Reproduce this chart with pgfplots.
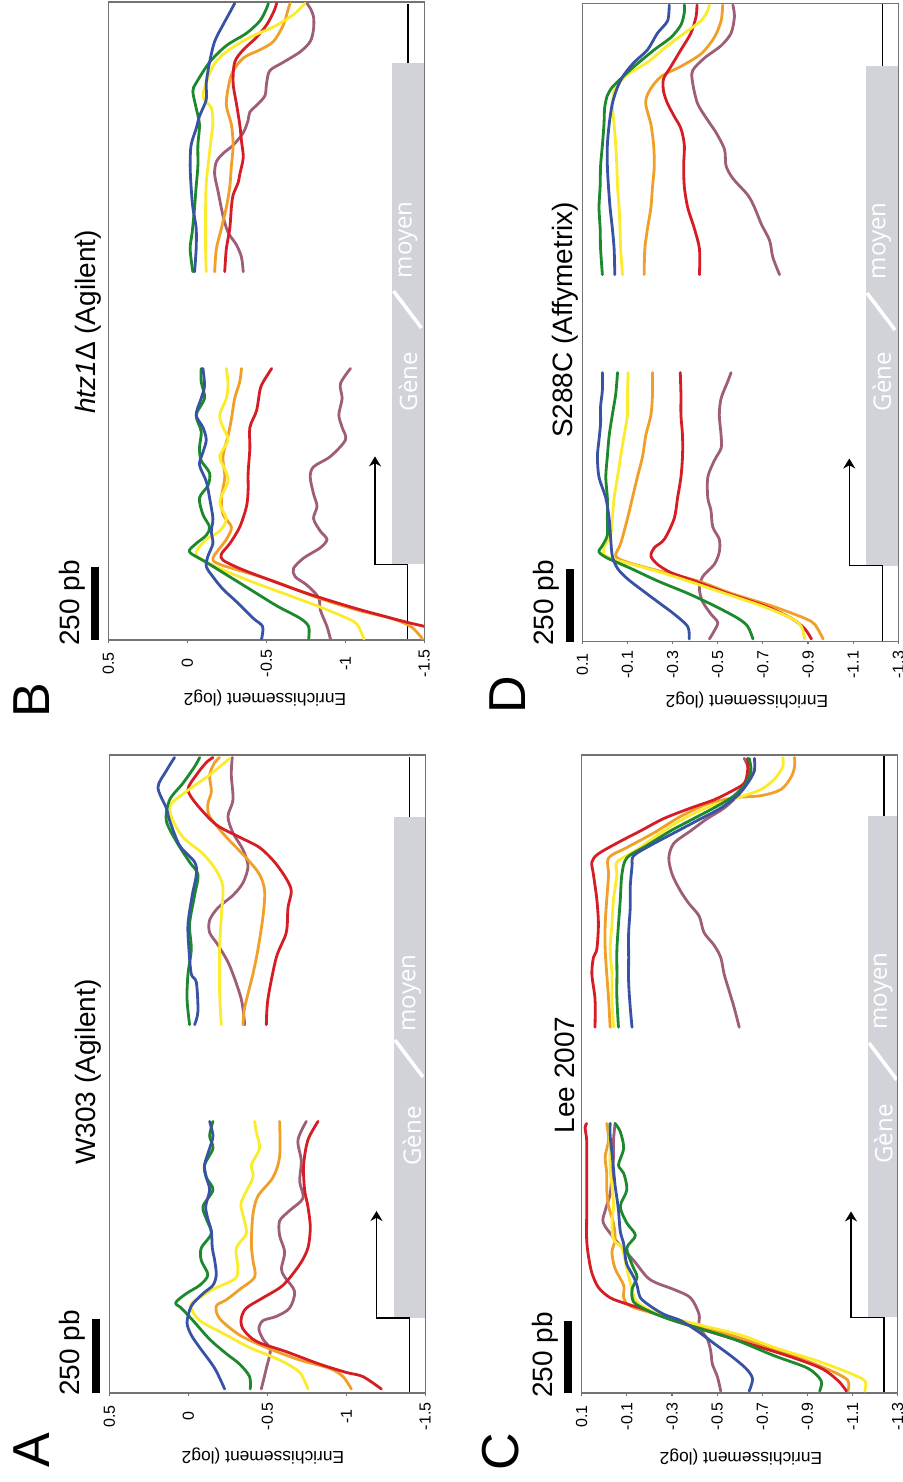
\documentclass[border=0pt]{standalone}
\usepackage{pgfplots}
\pgfplotsset{compat=1.18}
\usepackage{fontspec}
\setmainfont{Liberation Sans}
\newfontfamily\genefont{Open Sans}
\usetikzlibrary{arrows.meta}

\definecolor{cblue}{RGB}{57,83,164}
\definecolor{cgreen}{RGB}{27,137,44}
\definecolor{cyellow}{RGB}{250,235,45}
\definecolor{corange}{RGB}{240,160,40}
\definecolor{cred}{RGB}{214,28,36}
\definecolor{cpurple}{RGB}{158,94,120}
\definecolor{genegray}{RGB}{210,211,217}
\definecolor{framegray}{RGB}{115,115,115}

\pgfplotsset{
  panel/.style={
    scale only axis, width=158pt, height=319pt, anchor=center,
    x dir=reverse, clip mode=individual, no markers,
    axis line style={draw=framegray, line width=0.7pt},
    ytick=\empty, xtick pos=left, xtick align=outside,
    major tick length=1.5pt,
    tick style={draw=framegray, line width=0.6pt},
    xticklabel style={rotate=90, anchor=east, font=\fontsize{8}{9}\selectfont,
      text width=16pt, align=center, inner xsep=2pt, inner ysep=0pt},
    every axis plot/.append style={line width=1.4pt, line join=round, line cap=round, smooth, tension=0.5},
  },
  panelAB/.style={panel, xmin=-1.5, xmax=0.5, xtick={0.5,0,-0.5,-1,-1.5},
    xticklabels={0.5,0,-0.5,-1,-1.5}},
  panelCD/.style={panel, xmin=-1.3, xmax=0.1,
    xtick={0.1,-0.1,-0.3,-0.5,-0.7,-0.9,-1.1,-1.3},
    xticklabels={0.1,-0.1,-0.3,-0.5,-0.7,-0.9,-1.1,-1.3}},
}

\begin{document}
\begin{tikzpicture}
\useasboundingbox (0,0) rectangle (451.5pt,-741pt);

% ---------- gene diagrams and scale bars (background) ----------
\begin{scope}[x=0.5pt,y=-0.5pt]
  \tikzset{gline/.style={black, line width=0.75pt},
           garrow/.style={black, line width=0.75pt, -{Stealth[length=5pt,width=6pt]}},
           gtext/.style={rotate=90, text=white, font=\genefont\fontsize{12}{12}\selectfont}}
  % A
  \fill[genegray] (394.3,816.7) rectangle (425.3,1318);
  \draw[garrow] (409.5,1393) -- (409.5,1318) -- (376.5,1318) -- (376.5,1211);
  \draw[gline] (409.5,816.7) -- (409.5,757);
  \draw[white, line width=1.8pt] (395,1040) -- (423,1077);
  \node[gtext] at (411.7,1136) {Gène};
  \node[gtext] at (411.7,993) {moyen};
  \draw[black, line width=4pt] (96,1319) -- (96,1393);
  % B
  \fill[genegray] (391.7,63.3) rectangle (424.3,564.3);
  \draw[garrow] (407.5,640) -- (407.5,564.3) -- (375,564.3) -- (375,456.4);
  \draw[gline] (408,63.3) -- (408,4);
  \draw[white, line width=1.8pt] (393.5,291) -- (421.5,328);
  \node[gtext] at (408,381.7) {Gène};
  \node[gtext] at (408,240) {moyen};
  \draw[black, line width=4pt] (95,567) -- (95,640);
  % C
  \fill[genegray] (868.3,815.6) rectangle (897.7,1317.3);
  \draw[garrow] (884,1392.7) -- (884,1317.3) -- (851,1317.3) -- (851,1211.4);
  \draw[gline] (884,815.6) -- (884,756);
  \draw[white, line width=1.8pt] (869,1043) -- (897,1080);
  \node[gtext] at (883.3,1134) {Gène};
  \node[gtext] at (883.3,991) {moyen};
  \draw[black, line width=4pt] (567.8,1320.7) -- (567.8,1393);
  % D
  \fill[genegray] (866,65.6) rectangle (898.3,565.7);
  \draw[garrow] (882.3,641.3) -- (882.3,565.7) -- (849.3,565.7) -- (849.3,458.5);
  \draw[gline] (882.3,65.6) -- (882.3,4);
  \draw[white, line width=1.8pt] (867,293) -- (895,330);
  \node[gtext] at (881.7,381.7) {Gène};
  \node[gtext] at (881.7,240.7) {moyen};
  \draw[black, line width=4pt] (569.7,569) -- (569.7,641.5);
\end{scope}

% ================= Panel A : W303 (Agilent) =================
\begin{axis}[panelAB, at={(133.65pt,-537pt)}, ymin=-1549.6, ymax=-12]
% segment 1 (around the TSS)
\addplot[cpurple] coordinates {(-0.462,-1540) (-0.494,-1490) (-0.519,-1445) (-0.473,-1420) (-0.447,-1395) (-0.473,-1375) (-0.557,-1365) (-0.641,-1345) (-0.673,-1305) (-0.610,-1270) (-0.589,-1250) (-0.610,-1210) (-0.578,-1170) (-0.578,-1135) (-0.641,-1110) (-0.726,-1080) (-0.705,-1040) (-0.715,-990) (-0.694,-940) (-0.747,-895)};
\addplot[corange] coordinates {(-1.032,-1540) (-0.979,-1510) (-0.894,-1490) (-0.705,-1470) (-0.494,-1440) (-0.325,-1410) (-0.198,-1370) (-0.177,-1340) (-0.241,-1325) (-0.325,-1300) (-0.420,-1270) (-0.409,-1230) (-0.399,-1190) (-0.409,-1120) (-0.441,-1075) (-0.536,-1030) (-0.578,-980) (-0.578,-895)};
\addplot[cred] coordinates {(-1.222,-1540) (-1.105,-1510) (-1.000,-1500) (-0.831,-1480) (-0.620,-1450) (-0.430,-1425) (-0.346,-1395) (-0.335,-1370) (-0.367,-1345) (-0.473,-1320) (-0.599,-1290) (-0.705,-1240) (-0.757,-1200) (-0.772,-1150) (-0.757,-1100) (-0.736,-1060) (-0.730,-1000) (-0.757,-940) (-0.821,-895)};
\addplot[cyellow] coordinates {(-0.757,-1540) (-0.705,-1500) (-0.578,-1470) (-0.388,-1440) (-0.241,-1410) (-0.072,-1375) (-0.019,-1345) (-0.030,-1330) (-0.156,-1300) (-0.293,-1275) (-0.314,-1250) (-0.304,-1200) (-0.367,-1165) (-0.346,-1120) (-0.335,-1090) (-0.409,-1030) (-0.399,-1000) (-0.451,-960) (-0.430,-920) (-0.420,-895)};
\addplot[cgreen] coordinates {(-0.392,-1540) (-0.388,-1510) (-0.325,-1480) (-0.241,-1455) (-0.135,-1420) (-0.030,-1375) (0.044,-1345) (0.080,-1332) (0.013,-1310) (-0.072,-1290) (-0.124,-1265) (-0.082,-1230) (-0.082,-1200) (-0.146,-1165) (-0.114,-1130) (-0.093,-1100) (-0.156,-1060) (-0.114,-1030) (-0.103,-1000) (-0.156,-960) (-0.135,-930) (-0.156,-895)};
\addplot[cblue] coordinates {(-0.230,-1540) (-0.167,-1490) (-0.072,-1440) (-0.019,-1410) (0.008,-1380) (-0.019,-1340) (-0.093,-1310) (-0.156,-1290) (-0.177,-1265) (-0.167,-1230) (-0.152,-1200) (-0.146,-1160) (-0.124,-1130) (-0.110,-1100) (-0.135,-1060) (-0.114,-1030) (-0.103,-1000) (-0.135,-960) (-0.156,-930) (-0.135,-895)};
% segment 2 (gene end)
\addplot[cpurple] coordinates {(-0.357,-662) (-0.335,-600) (-0.262,-520) (-0.188,-470) (-0.135,-440) (-0.135,-410) (-0.188,-380) (-0.283,-350) (-0.346,-320) (-0.378,-280) (-0.346,-240) (-0.283,-200) (-0.251,-160) (-0.283,-120) (-0.272,-60) (-0.278,-18)};
\addplot[corange] coordinates {(-0.346,-662) (-0.357,-620) (-0.409,-540) (-0.441,-480) (-0.473,-400) (-0.483,-340) (-0.451,-300) (-0.367,-260) (-0.241,-210) (-0.135,-160) (-0.124,-130) (-0.146,-100) (-0.135,-60) (-0.167,-30) (-0.198,-18)};
\addplot[cred] coordinates {(-0.494,-662) (-0.504,-600) (-0.557,-500) (-0.620,-440) (-0.631,-380) (-0.652,-340) (-0.620,-310) (-0.546,-270) (-0.451,-235) (-0.325,-210) (-0.177,-180) (-0.051,-130) (0.002,-95) (-0.051,-60) (-0.114,-30) (-0.156,-18)};
\addplot[cyellow] coordinates {(-0.209,-662) (-0.198,-580) (-0.198,-480) (-0.209,-400) (-0.219,-330) (-0.177,-290) (-0.093,-250) (0.034,-210) (0.108,-160) (0.108,-130) (0.013,-100) (-0.135,-60) (-0.262,-20)};
\addplot[cgreen] coordinates {(-0.008,-662) (0.008,-600) (0.002,-540) (-0.019,-480) (-0.008,-420) (-0.040,-350) (-0.061,-300) (-0.008,-270) (0.076,-220) (0.139,-170) (0.118,-120) (0.034,-80) (-0.040,-40) (-0.072,-18)};
\addplot[cblue] coordinates {(-0.040,-662) (-0.061,-630) (-0.051,-560) (-0.019,-540) (-0.004,-480) (0.002,-420) (-0.025,-350) (-0.051,-300) (-0.040,-270) (0.055,-230) (0.118,-170) (0.139,-140) (0.192,-90) (0.139,-50) (0.087,-18)};
\end{axis}

% ================= Panel B : htz1 (Agilent) =================
\begin{axis}[panelAB, at={(133.15pt,-160.5pt)}, ymin=-1542.4, ymax=-4.8]
\addplot[cpurple] coordinates {(-0.906,-1540) (-0.884,-1510) (-0.842,-1470) (-0.831,-1440) (-0.757,-1410) (-0.683,-1390) (-0.672,-1370) (-0.736,-1345) (-0.842,-1320) (-0.884,-1300) (-0.842,-1280) (-0.799,-1250) (-0.821,-1220) (-0.799,-1190) (-0.778,-1150) (-0.799,-1125) (-0.906,-1100) (-1.001,-1060) (-0.980,-1030) (-0.959,-1000) (-0.980,-960) (-0.969,-925) (-1.033,-888)};
\addplot[corange] coordinates {(-1.489,-1540) (-1.415,-1510) (-1.288,-1490) (-1.075,-1470) (-0.821,-1440) (-0.545,-1400) (-0.332,-1375) (-0.205,-1360) (-0.162,-1345) (-0.247,-1300) (-0.279,-1270) (-0.226,-1240) (-0.216,-1200) (-0.237,-1150) (-0.226,-1100) (-0.258,-1050) (-0.279,-1010) (-0.300,-960) (-0.332,-920) (-0.343,-888)};
\addplot[cred] coordinates {(-1.564,-1515) (-1.394,-1500) (-1.245,-1485) (-1.054,-1465) (-0.757,-1430) (-0.502,-1395) (-0.332,-1370) (-0.226,-1350) (-0.216,-1335) (-0.269,-1310) (-0.332,-1270) (-0.375,-1220) (-0.385,-1180) (-0.385,-1140) (-0.396,-1080) (-0.396,-1030) (-0.438,-990) (-0.460,-940) (-0.481,-920) (-0.534,-888)};
\addplot[cyellow] coordinates {(-1.118,-1540) (-1.075,-1505) (-1.012,-1490) (-0.821,-1460) (-0.608,-1430) (-0.396,-1400) (-0.205,-1370) (-0.077,-1345) (-0.056,-1330) (-0.120,-1300) (-0.205,-1280) (-0.247,-1250) (-0.205,-1210) (-0.258,-1160) (-0.237,-1130) (-0.205,-1100) (-0.258,-1060) (-0.226,-1030) (-0.205,-1000) (-0.247,-960) (-0.258,-925) (-0.247,-888)};
\addplot[cgreen] coordinates {(-0.768,-1540) (-0.768,-1510) (-0.714,-1490) (-0.566,-1460) (-0.396,-1420) (-0.247,-1385) (-0.120,-1355) (-0.014,-1330) (-0.056,-1310) (-0.120,-1290) (-0.141,-1270) (-0.099,-1240) (-0.077,-1200) (-0.131,-1170) (-0.141,-1140) (-0.088,-1110) (-0.077,-1080) (-0.088,-1040) (-0.056,-1000) (-0.109,-960) (-0.088,-920) (-0.088,-888)};
\addplot[cblue] coordinates {(-0.470,-1540) (-0.477,-1510) (-0.417,-1490) (-0.311,-1450) (-0.226,-1420) (-0.162,-1390) (-0.120,-1365) (-0.131,-1340) (-0.162,-1310) (-0.152,-1280) (-0.162,-1250) (-0.141,-1200) (-0.120,-1160) (-0.077,-1120) (-0.099,-1090) (-0.120,-1060) (-0.099,-1030) (-0.056,-1000) (-0.088,-960) (-0.109,-930) (-0.099,-888)};
\addplot[cpurple] coordinates {(-0.354,-655) (-0.343,-620) (-0.311,-590) (-0.258,-560) (-0.226,-520) (-0.194,-460) (-0.173,-420) (-0.184,-390) (-0.226,-370) (-0.290,-350) (-0.354,-320) (-0.385,-290) (-0.396,-270) (-0.449,-250) (-0.492,-230) (-0.502,-200) (-0.523,-170) (-0.608,-150) (-0.714,-125) (-0.778,-100) (-0.799,-70) (-0.799,-40) (-0.778,-20) (-0.757,-8)};
\addplot[corange] coordinates {(-0.173,-655) (-0.184,-600) (-0.216,-550) (-0.247,-500) (-0.269,-450) (-0.279,-400) (-0.290,-350) (-0.279,-300) (-0.247,-250) (-0.279,-180) (-0.354,-140) (-0.460,-120) (-0.545,-100) (-0.608,-60) (-0.640,-20) (-0.651,-8)};
\addplot[cred] coordinates {(-0.237,-655) (-0.247,-600) (-0.269,-550) (-0.279,-500) (-0.290,-470) (-0.322,-440) (-0.332,-420) (-0.354,-380) (-0.343,-340) (-0.332,-300) (-0.311,-250) (-0.290,-200) (-0.300,-150) (-0.354,-120) (-0.438,-90) (-0.502,-60) (-0.545,-30) (-0.566,-8)};
\addplot[cyellow] coordinates {(-0.120,-655) (-0.116,-600) (-0.116,-500) (-0.120,-440) (-0.131,-400) (-0.152,-330) (-0.162,-300) (-0.152,-260) (-0.099,-230) (-0.162,-160) (-0.247,-125) (-0.396,-90) (-0.545,-65) (-0.672,-35) (-0.746,-8)};
\addplot[cgreen] coordinates {(-0.035,-655) (-0.018,-600) (-0.031,-560) (-0.046,-500) (-0.056,-450) (-0.067,-400) (-0.067,-350) (-0.077,-300) (-0.056,-260) (-0.035,-220) (-0.056,-200) (-0.141,-150) (-0.247,-110) (-0.375,-80) (-0.460,-50) (-0.502,-20) (-0.513,-8)};
\addplot[cblue] coordinates {(-0.046,-655) (-0.056,-600) (-0.056,-550) (-0.035,-500) (-0.024,-450) (-0.018,-400) (-0.024,-350) (-0.056,-310) (-0.077,-280) (-0.120,-240) (-0.120,-200) (-0.141,-150) (-0.173,-100) (-0.226,-60) (-0.269,-30) (-0.300,-8)};
\end{axis}

% ================= Panel C : Lee 2007 =================
\begin{axis}[panelCD, at={(369.85pt,-537pt)}, ymin=-1549.6, ymax=-12]
\addplot[cpurple] coordinates {(-0.516,-1545) (-0.501,-1510) (-0.479,-1480) (-0.472,-1450) (-0.457,-1420) (-0.420,-1390) (-0.420,-1360) (-0.382,-1320) (-0.308,-1300) (-0.234,-1285) (-0.189,-1270) (-0.130,-1230) (-0.056,-1185) (0.004,-1140) (-0.004,-1110) (-0.026,-1070) (-0.034,-1020) (-0.041,-980) (-0.041,-940) (-0.048,-900)};
\addplot[corange] coordinates {(-1.080,-1545) (-1.080,-1520) (-1.021,-1500) (-0.887,-1470) (-0.724,-1440) (-0.561,-1410) (-0.397,-1385) (-0.234,-1360) (-0.115,-1340) (-0.086,-1320) (-0.086,-1290) (-0.048,-1250) (-0.034,-1210) (-0.048,-1180) (-0.041,-1140) (-0.019,-1100) (-0.011,-1060) (-0.011,-1020) (-0.004,-980) (-0.019,-940) (-0.011,-900)};
\addplot[cred] coordinates {(-1.073,-1545) (-1.036,-1520) (-0.961,-1490) (-0.813,-1460) (-0.635,-1430) (-0.457,-1400) (-0.308,-1375) (-0.189,-1350) (-0.100,-1335) (-0.026,-1320) (0.026,-1295) (0.055,-1260) (0.070,-1220) (0.078,-1180) (0.078,-1120) (0.078,-1050) (0.078,-990) (0.078,-940) (0.085,-910) (0.078,-900)};
\addplot[cyellow] coordinates {(-1.154,-1545) (-1.154,-1520) (-1.080,-1500) (-0.932,-1470) (-0.754,-1440) (-0.605,-1410) (-0.457,-1390) (-0.308,-1370) (-0.219,-1355) (-0.145,-1330) (-0.123,-1300) (-0.100,-1250) (-0.078,-1200) (-0.041,-1180) (-0.034,-1140) (-0.041,-1100) (-0.034,-1050) (-0.026,-1010) (-0.026,-960) (-0.023,-920) (-0.026,-900)};
\addplot[cgreen] coordinates {(-0.954,-1545) (-0.961,-1520) (-0.902,-1490) (-0.754,-1460) (-0.575,-1420) (-0.427,-1395) (-0.279,-1370) (-0.189,-1350) (-0.130,-1330) (-0.123,-1300) (-0.145,-1270) (-0.123,-1240) (-0.100,-1200) (-0.138,-1170) (-0.100,-1140) (-0.071,-1100) (-0.100,-1060) (-0.086,-1020) (-0.063,-1000) (-0.086,-960) (-0.071,-920) (-0.048,-900)};
\addplot[cblue] coordinates {(-0.642,-1545) (-0.657,-1515) (-0.627,-1490) (-0.561,-1460) (-0.486,-1430) (-0.412,-1400) (-0.338,-1375) (-0.264,-1360) (-0.204,-1340) (-0.160,-1320) (-0.145,-1290) (-0.130,-1270) (-0.100,-1240) (-0.093,-1220) (-0.086,-1190) (-0.071,-1160) (-0.063,-1110) (-0.056,-1080) (-0.048,-1050) (-0.041,-1010) (-0.034,-970) (-0.026,-930) (-0.026,-900)};
\addplot[cpurple] coordinates {(-0.598,-668) (-0.575,-620) (-0.553,-580) (-0.531,-540) (-0.516,-500) (-0.486,-470) (-0.442,-440) (-0.420,-400) (-0.375,-370) (-0.338,-340) (-0.301,-300) (-0.286,-260) (-0.308,-225) (-0.382,-195) (-0.457,-165) (-0.531,-140) (-0.590,-110) (-0.627,-80) (-0.642,-50) (-0.620,-20)};
\addplot[corange] coordinates {(-0.026,-668) (-0.019,-600) (-0.011,-540) (-0.004,-480) (-0.004,-420) (-0.011,-360) (-0.019,-300) (-0.019,-260) (-0.100,-235) (-0.219,-200) (-0.338,-160) (-0.457,-130) (-0.575,-115) (-0.694,-110) (-0.783,-95) (-0.828,-65) (-0.843,-40) (-0.843,-18)};
\addplot[cred] coordinates {(0.041,-668) (0.041,-600) (0.055,-540) (0.048,-500) (0.033,-480) (0.026,-420) (0.033,-360) (0.048,-300) (0.055,-270) (0.026,-250) (-0.071,-220) (-0.160,-195) (-0.264,-165) (-0.382,-140) (-0.486,-120) (-0.561,-100) (-0.620,-80) (-0.635,-50) (-0.635,-20)};
\addplot[cyellow] coordinates {(-0.041,-668) (-0.034,-600) (-0.034,-540) (-0.026,-480) (-0.034,-420) (-0.041,-360) (-0.056,-300) (-0.056,-270) (-0.145,-240) (-0.249,-200) (-0.353,-165) (-0.472,-135) (-0.590,-115) (-0.694,-95) (-0.754,-70) (-0.791,-40) (-0.791,-18)};
\addplot[cgreen] coordinates {(-0.063,-668) (-0.056,-600) (-0.056,-540) (-0.056,-480) (-0.063,-420) (-0.071,-360) (-0.078,-300) (-0.100,-260) (-0.189,-230) (-0.293,-195) (-0.397,-165) (-0.501,-135) (-0.575,-110) (-0.627,-80) (-0.650,-50) (-0.642,-20)};
\addplot[cblue] coordinates {(-0.123,-668) (-0.115,-620) (-0.108,-560) (-0.108,-500) (-0.108,-440) (-0.115,-380) (-0.115,-330) (-0.123,-280) (-0.130,-255) (-0.204,-230) (-0.308,-200) (-0.412,-170) (-0.516,-140) (-0.590,-110) (-0.635,-80) (-0.665,-50) (-0.665,-20)};
\end{axis}

% ================= Panel D : S288C (Affymetrix) =================
\begin{axis}[panelCD, at={(370.15pt,-161.15pt)}, ymin=-1545.6, ymax=-8]
\addplot[cpurple] coordinates {(-0.463,-1540) (-0.485,-1520) (-0.500,-1500) (-0.470,-1480) (-0.433,-1450) (-0.419,-1420) (-0.433,-1390) (-0.485,-1360) (-0.507,-1330) (-0.507,-1300) (-0.478,-1270) (-0.470,-1230) (-0.456,-1200) (-0.456,-1150) (-0.485,-1110) (-0.515,-1080) (-0.515,-1050) (-0.507,-1000) (-0.515,-960) (-0.544,-920) (-0.559,-898)};
\addplot[corange] coordinates {(-0.967,-1540) (-0.930,-1505) (-0.885,-1490) (-0.737,-1460) (-0.559,-1430) (-0.411,-1400) (-0.233,-1375) (-0.100,-1355) (-0.048,-1340) (-0.070,-1310) (-0.100,-1250) (-0.122,-1200) (-0.144,-1150) (-0.167,-1100) (-0.181,-1050) (-0.204,-1000) (-0.211,-950) (-0.211,-898)};
\addplot[cred] coordinates {(-0.915,-1540) (-0.885,-1515) (-0.826,-1490) (-0.707,-1460) (-0.544,-1430) (-0.396,-1400) (-0.293,-1380) (-0.233,-1360) (-0.204,-1340) (-0.219,-1320) (-0.263,-1300) (-0.307,-1250) (-0.322,-1200) (-0.337,-1150) (-0.344,-1100) (-0.344,-1050) (-0.337,-1000) (-0.337,-950) (-0.334,-898)};
\addplot[cyellow] coordinates {(-0.885,-1540) (-0.870,-1510) (-0.826,-1490) (-0.693,-1460) (-0.530,-1430) (-0.367,-1400) (-0.219,-1375) (-0.085,-1355) (-0.004,-1340) (0.004,-1320) (-0.026,-1290) (-0.033,-1250) (-0.041,-1200) (-0.056,-1150) (-0.070,-1100) (-0.085,-1050) (-0.100,-1000) (-0.100,-950) (-0.103,-898)};
\addplot[cgreen] coordinates {(-0.656,-1540) (-0.633,-1510) (-0.589,-1490) (-0.485,-1460) (-0.367,-1430) (-0.233,-1400) (-0.115,-1370) (-0.011,-1345) (0.026,-1330) (0.011,-1315) (-0.011,-1290) (-0.011,-1250) (-0.011,-1200) (-0.004,-1150) (-0.011,-1100) (-0.019,-1050) (-0.033,-1000) (-0.048,-950) (-0.056,-898)};
\addplot[cblue] coordinates {(-0.374,-1540) (-0.367,-1510) (-0.307,-1480) (-0.233,-1450) (-0.159,-1420) (-0.100,-1395) (-0.056,-1370) (-0.033,-1340) (-0.026,-1300) (-0.019,-1250) (-0.004,-1200) (0.026,-1150) (0.033,-1100) (0.026,-1060) (0.019,-1020) (0.019,-980) (0.011,-940) (0.011,-898)};
\addplot[cpurple] coordinates {(-0.774,-662) (-0.744,-620) (-0.730,-580) (-0.693,-540) (-0.663,-500) (-0.633,-470) (-0.567,-430) (-0.537,-400) (-0.530,-360) (-0.493,-320) (-0.456,-290) (-0.411,-250) (-0.389,-200) (-0.389,-170) (-0.441,-140) (-0.515,-110) (-0.559,-80) (-0.574,-40) (-0.567,-12)};
\addplot[corange] coordinates {(-0.174,-662) (-0.177,-600) (-0.189,-550) (-0.204,-500) (-0.211,-450) (-0.219,-400) (-0.216,-350) (-0.204,-300) (-0.181,-250) (-0.196,-220) (-0.248,-185) (-0.337,-160) (-0.426,-130) (-0.485,-90) (-0.515,-50) (-0.522,-12)};
\addplot[cred] coordinates {(-0.419,-662) (-0.419,-600) (-0.396,-550) (-0.367,-500) (-0.352,-450) (-0.349,-400) (-0.352,-350) (-0.337,-310) (-0.307,-280) (-0.278,-250) (-0.260,-220) (-0.260,-190) (-0.293,-160) (-0.337,-120) (-0.381,-80) (-0.404,-40) (-0.408,-12)};
\addplot[cyellow] coordinates {(-0.078,-662) (-0.070,-600) (-0.067,-550) (-0.063,-500) (-0.056,-450) (-0.053,-400) (-0.048,-350) (-0.041,-300) (-0.033,-250) (-0.048,-210) (-0.100,-180) (-0.189,-150) (-0.278,-110) (-0.352,-80) (-0.426,-50) (-0.456,-25) (-0.463,-12)};
\addplot[cgreen] coordinates {(0.011,-662) (0.019,-600) (0.021,-550) (0.026,-500) (0.021,-450) (0.019,-400) (0.011,-350) (0.004,-300) (0.001,-260) (-0.011,-230) (-0.033,-210) (-0.070,-190) (-0.130,-160) (-0.219,-120) (-0.293,-90) (-0.337,-60) (-0.352,-30) (-0.352,-12)};
\addplot[cblue] coordinates {(-0.044,-662) (-0.041,-600) (-0.033,-550) (-0.023,-500) (-0.016,-450) (-0.011,-400) (-0.011,-350) (-0.019,-300) (-0.033,-250) (-0.056,-210) (-0.085,-180) (-0.130,-150) (-0.189,-120) (-0.233,-80) (-0.278,-50) (-0.285,-12)};
\end{axis}

% ---------- texts ----------
\begin{scope}[x=0.5pt,y=-0.5pt]
  \tikzset{letter/.style={rotate=90, font=\fontsize{26}{26}\selectfont},
           bar/.style={rotate=90, font=\fontsize{14}{14}\selectfont},
           ttl/.style={rotate=90, font=\fontsize{14}{14}\selectfont},
           ylab/.style={rotate=180, font=\fontsize{8.7}{9}\selectfont}}
  \node[letter] at (32,1450) {A};
  \node[letter] at (32,700) {B};
  \node[letter] at (501,1452) {C};
  \node[letter] at (508,695) {D};
  \node[bar] at (72.5,1353) {250 pb};
  \node[bar] at (72.5,603) {250 pb};
  \node[bar] at (545,1355) {250 pb};
  \node[bar] at (546,603) {250 pb};
  \node[ttl] at (88,1072) {W303 (Agilent)};
  \node[ttl] at (88,322) {\textit{htz1}Δ (Agilent)};
  \node[ttl] at (565,1075) {Lee 2007};
  \node[ttl] at (565,320) {S288C (Affymetrix)};
  \node[ylab] at (263,1456) {Enrichissement (log2};
  \node[ylab] at (265,698) {Enrichissement (log2};
  \node[ylab] at (741,1457) {Enrichissement (log2};
  \node[ylab] at (747,700) {Enrichissement (log2};
\end{scope}
\end{tikzpicture}
\end{document}
